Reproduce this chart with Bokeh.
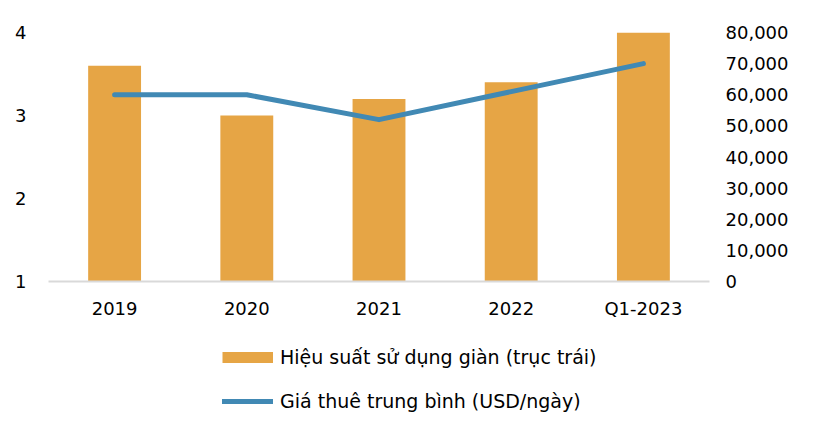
from bokeh.embed import file_html
from bokeh.resources import INLINE
from bokeh.layouts import column
from bokeh.plotting import figure
from bokeh.models import (ColumnDataSource, Range1d, LinearAxis, FixedTicker,
                          NumeralTickFormatter, Legend, LegendItem)

# Data
# -----------------------
categories = ["2019", "2020", "2021", "2022", "Q1-2023"]
rig_utilization = [3.6, 3.0, 3.2, 3.4, 4.0]          # left axis
day_rate_usd = [60000, 60000, 52000, 61000, 70000]   # right axis
left_ticks = [1, 2, 3, 4]
right_ticks = [0, 10000, 20000, 30000, 40000, 50000, 60000, 70000, 80000]

bar_label = "Hiệu suất sử dụng giàn (trục trái)"
line_label = "Giá thuê trung bình (USD/ngày)"

BAR_COLOR = "#E6A545"
LINE_COLOR = "#4189B4"
FONT = "DejaVu Sans"
FONT_SIZE = "18px"

source = ColumnDataSource(data={
    "cat": categories,
    "util": rig_utilization,
    "rate": day_rate_usd,
})

# Main chart
# ----------
p = figure(
    x_range=categories,
    y_range=Range1d(1, 4),
    width=820,
    height=330,
    output_backend="svg",
    toolbar_location=None,
    min_border_left=48,
    min_border_right=111,
    min_border_top=32,
    min_border_bottom=49,
)
p.extra_y_ranges = {"usd": Range1d(0, 80000)}
p.outline_line_color = None
p.xgrid.grid_line_color = None
p.ygrid.grid_line_color = None

# Bars on the left axis
p.vbar(x="cat", top="util", bottom=1, width=0.4, source=source,
       fill_color=BAR_COLOR, line_color=None)

# Line on the right axis
p.line(x="cat", y="rate", source=source, y_range_name="usd",
       line_color=LINE_COLOR, line_width=5, line_cap="round",
       line_join="round")


def style_axis(axis, standoff):
    axis.major_tick_line_color = None
    axis.minor_tick_line_color = None
    axis.major_tick_out = 0
    axis.major_tick_in = 0
    axis.minor_tick_out = 0
    axis.minor_tick_in = 0
    axis.major_label_standoff = standoff
    axis.major_label_text_font = FONT
    axis.major_label_text_font_size = FONT_SIZE
    axis.major_label_text_color = "black"


xaxis = p.xaxis[0]
style_axis(xaxis, 16)
xaxis.axis_line_color = "#D9D9D9"
xaxis.axis_line_width = 2

yaxis = p.yaxis[0]
style_axis(yaxis, 22)
yaxis.ticker = FixedTicker(ticks=left_ticks)
yaxis.axis_line_color = None

right_axis = LinearAxis(y_range_name="usd")
style_axis(right_axis, 16)
right_axis.ticker = FixedTicker(ticks=right_ticks)
right_axis.formatter = NumeralTickFormatter(format="0,0")
right_axis.axis_line_color = None
p.add_layout(right_axis, "right")

# Legend strip under the chart
# ----------------------------
# (its frame is aligned with the main chart's frame by the column layout)
leg_fig = figure(
    x_range=Range1d(0, 1),
    y_range=Range1d(0, 1),
    width=820,
    height=90,
    output_backend="svg",
    toolbar_location=None,
    x_axis_type=None,
    y_axis_type=None,
    min_border=0,
)
leg_fig.outline_line_color = None
leg_fig.xgrid.grid_line_color = None
leg_fig.ygrid.grid_line_color = None

# proxy renderers: same data, far outside this strip's ranges, so only
# their legend swatches show up
bar_proxy = leg_fig.line(x="util", y="rate", source=source,
                         line_color=BAR_COLOR, line_width=11, line_cap="butt")
line_proxy = leg_fig.line(x="util", y="rate", source=source,
                          line_color=LINE_COLOR, line_width=5,
                          line_cap="round")

legend = Legend(
    items=[
        LegendItem(label=bar_label, renderers=[bar_proxy]),
        LegendItem(label=line_label, renderers=[line_proxy]),
    ],
    location=(174, 8),
    orientation="vertical",
    glyph_width=51,
    glyph_height=20,
    label_height=20,
    label_standoff=7,
    spacing=22,
    padding=0,
    margin=0,
    border_line_color=None,
    background_fill_alpha=0,
    label_text_font=FONT,
    label_text_font_size="19px",
    label_text_color="black",
)
leg_fig.add_layout(legend, "center")

open("out.html", "w").write(file_html(column(p, leg_fig), INLINE))
